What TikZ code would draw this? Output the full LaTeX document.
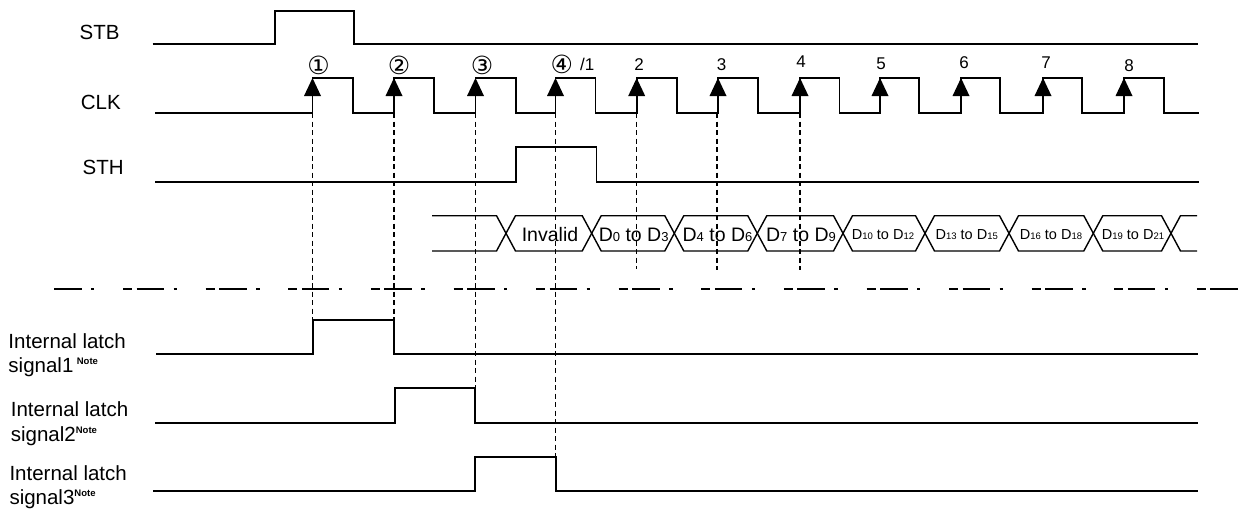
\documentclass[tikz,border=0pt]{standalone}
\usepackage{fontspec}
\setmainfont{Liberation Sans}
\newfontfamily\circfont{DejaVu Sans}
\newcommand{\notesup}{\raisebox{8pt}{\fontsize{9.5}{10}\selectfont\bfseries Note}}
\newcommand{\dbig}[2]{D{\fontsize{13}{13}\selectfont #1} to D{\fontsize{13}{13}\selectfont #2}}
\newcommand{\dsmall}[2]{D{\fontsize{9.5}{10}\selectfont #1} to D{\fontsize{9.5}{10}\selectfont #2}}
\begin{document}
\begin{tikzpicture}[x=1pt,y=-1pt,
  sig/.style={line width=1.7pt, line join=miter},
  bus/.style={line width=1.4pt, line join=miter},
  guide/.style={line width=1.5pt, dash pattern=on 5pt off 3.5pt},
  sep/.style={line width=1.7pt, dash pattern=on 27.5pt off 9.5pt on 3.3pt off 28.8pt on 9pt off 4.5pt},
  lbl/.style={anchor=base west, inner sep=0pt, font=\fontsize{20.5}{24.4}\selectfont},
  num/.style={anchor=center, inner sep=0pt, font=\fontsize{17}{17}\selectfont},
  circ/.style={anchor=center, inner sep=0pt, font=\circfont\fontsize{25}{25}\selectfont},
  blbl/.style={anchor=base, inner sep=0pt, font=\fontsize{19.5}{19.5}\selectfont},
  slbl/.style={anchor=base, inner sep=0pt, font=\fontsize{14.5}{14.5}\selectfont}]
\useasboundingbox (0,0) rectangle (1245,509);

% labels
\node[lbl] (stb) at (79.5,39.3) {STB};
\node[lbl] (clk) at (80.7,109.3) {CLK};
\node[lbl] (sth) at (82.5,174.3) {STH};
\node[lbl, align=left] (lat1) at (8.3,372.7) {Internal latch\\signal1\,\notesup};
\node[lbl, align=left] (lat2) at (10.7,441.1) {Internal latch\\signal2\notesup};
\node[lbl, align=left] (lat3) at (9.3,504.4) {Internal latch\\signal3\notesup};

% STB
\draw[sig] (152.7,44.3) -- (275.3,44.3) -- (275.3,10.7) -- (354,10.7) -- (354,44.3) -- (1198,44.3);

% CLK
\draw[sig] (155,113) foreach \r/\f in {312.5/353, 394/434, 475.5/516, 555.5/595.5, 636.7/677, 718/758, 800/839.5, 880/919, 961/1000, 1043/1082, 1124/1164}
  { -- (\r,113) -- (\r,78) -- (\f,78) -- (\f,113) } -- (1199,113);
\foreach \r in {312.5, 394, 475.5, 555.5, 636.7, 718, 800, 880, 961, 1043, 1124}
  \fill (\r,78) -- ++(-8.5,18) -- ++(17,0) -- cycle;

% edge labels
\node[circ] (n1) at (318.5,65) {①};
\node[circ] (n2) at (399,65) {②};
\node[circ] (n3) at (482,65) {③};
\node[circ] (n4) at (561.7,64) {④};
\node[num] (n4b) at (587.3,64.5) {/1};
\node[num] (m2) at (639,64.5) {2};
\node[num] (m3) at (721.7,64.5) {3};
\node[num] (m4) at (801,62) {4};
\node[num] (m5) at (881,64) {5};
\node[num] (m6) at (964,63) {6};
\node[num] (m7) at (1046,63) {7};
\node[num] (m8) at (1129,65.5) {8};

% STH
\draw[sig] (155,182) -- (516,182) -- (516,147) -- (596.5,147) -- (596.5,182) -- (1199,182);

% data bus
\draw[bus] (432,215.7) -- (496.5,215.7) -- (506,233.3) -- (496.5,251) -- (432,251);
\foreach \a/\b in {506/591.7, 591.7/674.3, 674.3/757.3, 757.3/843, 843/925, 925/1009, 1009/1093.3, 1093.3/1171}
  \draw[bus] (\a,233.3) -- (\a+9.5,215.7) -- (\b-9.5,215.7) -- (\b,233.3) -- (\b-9.5,251) -- (\a+9.5,251) -- cycle;
\draw[bus] (1197,215.7) -- (1180.5,215.7) -- (1171,233.3) -- (1180.5,251) -- (1197,251);
\node[blbl] (d0) at (550,241.7) {Invalid};
\node[blbl] (d1) at (633.7,241.7) {\dbig{0}{3}};
\node[blbl] (d2) at (717.5,241.7) {\dbig{4}{6}};
\node[blbl] (d3) at (801,241.7) {\dbig{7}{9}};
\node[slbl] (d4) at (883,239.3) {\dsmall{10}{12}};
\node[slbl] (d5) at (966.7,239.3) {\dsmall{13}{15}};
\node[slbl] (d6) at (1051,239.3) {\dsmall{16}{18}};
\node[slbl] (d7) at (1133,239.3) {\dsmall{19}{21}};

% separator
\coordinate (sepL) at (54,289);
\coordinate (sepR) at (1238,289);
\draw[sep] (sepL) -- (sepR);

% internal latch signals
\draw[sig] (156,354) -- (312.7,354) -- (312.7,320) -- (394,320) -- (394,354) -- (1198,354);
\draw[sig] (155,423) -- (395,423) -- (395,388.3) -- (475,388.3) -- (475,423) -- (1198,423);
\draw[sig] (153.3,491) -- (475,491) -- (475,457.3) -- (555.7,457.3) -- (555.7,491) -- (1198,491);

% guide lines
\coordinate (e1) at (312.5,113); \coordinate (g1) at (312.5,320);
\coordinate (e2) at (394,113);   \coordinate (g2) at (394,320);
\coordinate (e3) at (475.3,113); \coordinate (g3) at (475.3,388.3);
\coordinate (e4) at (555.6,113); \coordinate (g4) at (555.6,457.3);
\coordinate (e5) at (636.7,113); \coordinate (g5) at (636.7,269);
\coordinate (e6) at (717,113);   \coordinate (g6) at (717,270);
\coordinate (e7) at (800,113);   \coordinate (g7) at (800,270);
\foreach \i in {1,...,7} \draw[guide] (e\i) -- (g\i);
\end{tikzpicture}
\end{document}
